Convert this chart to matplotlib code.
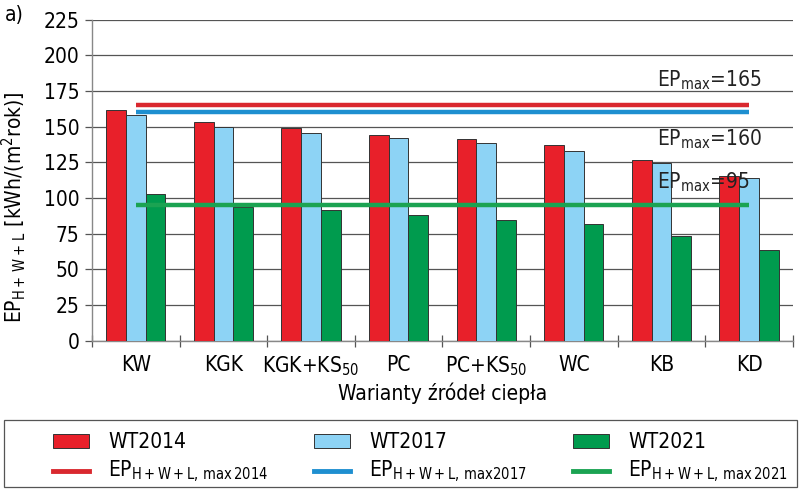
import matplotlib
matplotlib.use("Agg")
import matplotlib.pyplot as plt
from matplotlib.patches import Rectangle, Patch
from matplotlib.lines import Line2D
import numpy as np

categories = ["KW", "KGK", "KGK+KS$_{50}$", "PC", "PC+KS$_{50}$", "WC", "KB", "KD"]
wt2014 = [161.5, 153.3, 149.1, 144.4, 141.2, 136.9, 126.7, 115.2]
wt2017 = [158.0, 149.6, 145.4, 141.8, 138.8, 133.2, 124.8, 114.3]
wt2021 = [103.0, 94.0, 91.6, 88.1, 84.6, 81.6, 73.4, 63.6]
ep_max = [165, 160, 95]
series_labels = ["WT2014", "WT2017", "WT2021"]
line_labels = ["EP$_{\\mathrm{H+W+L,\\,max\\,2014}}$", "EP$_{\\mathrm{H+W+L,\\,max2017}}$",
               "EP$_{\\mathrm{H+W+L,\\,max\\,2021}}$"]
yticks = [0, 25, 50, 75, 100, 125, 150, 175, 200, 225]

plt.rcParams['font.family'] = ["DejaVu Sans"]
plt.rcParams['font.stretch'] = 'condensed'
plt.rcParams['mathtext.fontset'] = 'custom'
plt.rcParams['mathtext.rm'] = 'DejaVu Sans:stretch=condensed'
plt.rcParams['mathtext.it'] = 'DejaVu Sans:italic:stretch=condensed'
plt.rcParams['mathtext.bf'] = 'DejaVu Sans:bold:stretch=condensed'

bar_colors = ["#E8202A", "#8DD3F5", "#009B4E"]
line_colors = ["#D9282F", "#1E8FD0", "#1BA352"]

fig = plt.figure(figsize=(8, 4.9), dpi=100)
ax = fig.add_axes([0.115, 0.3047, 0.876, 0.6551])

x = np.arange(len(categories))
w = 0.225
for i, (vals, c) in enumerate(zip([wt2014, wt2017, wt2021], bar_colors)):
    ax.bar(x + (i - 1) * w, vals, width=w, color=c, edgecolor="#333333",
           linewidth=0.7, zorder=3)

for v, c in zip(ep_max, line_colors):
    ax.plot([x[0], x[-1]], [v, v], color=c, linewidth=3.2, zorder=4,
            solid_capstyle='butt')

ax.set_xlim(-0.5, len(categories) - 0.5)
ax.set_ylim(0, 225)
ax.set_yticks(yticks)
ax.yaxis.grid(True, color="#555555", linewidth=0.9, zorder=0)
ax.set_axisbelow(True)
for s in ["top", "right"]:
    ax.spines[s].set_visible(False)
for s in ["left", "bottom"]:
    ax.spines[s].set_color("#888888")
    ax.spines[s].set_linewidth(1.0)

ax.set_xticks(x)
ax.set_xticklabels(categories, fontsize=15)
ax.tick_params(axis='x', which='major', length=0, pad=10)
ax.set_xticks(np.arange(len(categories) + 1) - 0.5, minor=True)
ax.tick_params(axis='x', which='minor', direction='inout', length=8,
               color="#555555", width=0.9)
ax.tick_params(axis='y', direction='out', length=5, color="#555555",
               width=0.9, labelsize=15, pad=4)

ax.set_xlabel("Warianty źródeł ciepła", fontsize=15, labelpad=3)
ax.set_ylabel("EP$_{\\mathrm{H+\\,W+\\,L}}$ [kWh/(m$^{2}$rok)]", fontsize=15)
ax.yaxis.set_label_coords(-0.092, 0.415)

ann_y = [182.7, 141.4, 111.2]
for v, yy in zip(ep_max, ann_y):
    ax.text(5.95, yy, "EP$_{\\mathrm{max}}$=%d" % v, fontsize=15,
            va='center', ha='left', zorder=5, color="#222222")

fig.text(0.006, 0.97, "a)", fontsize=15, va='center', ha='left')

# legend box
fig.patches.append(Rectangle((4 / 800, 3 / 490), 793 / 800, 67 / 490,
                             transform=fig.transFigure, facecolor='white',
                             edgecolor='#555555', linewidth=0.9))
col_x = [53, 314, 573]
for i in range(3):
    handles = [Patch(facecolor=bar_colors[i], edgecolor="#333333", linewidth=0.7),
               Line2D([], [], color=line_colors[i], linewidth=3.5)]
    labels = [series_labels[i], line_labels[i]]
    leg = fig.legend(handles, labels, loc='upper left',
                     bbox_to_anchor=(col_x[i] / 800, 1 - 432 / 490), frameon=False,
                     fontsize=15, handlelength=1.75, handleheight=0.65,
                     handletextpad=0.9, labelspacing=0.35, borderpad=0.0,
                     borderaxespad=0.0)

fig.savefig("out.png", dpi=100)
